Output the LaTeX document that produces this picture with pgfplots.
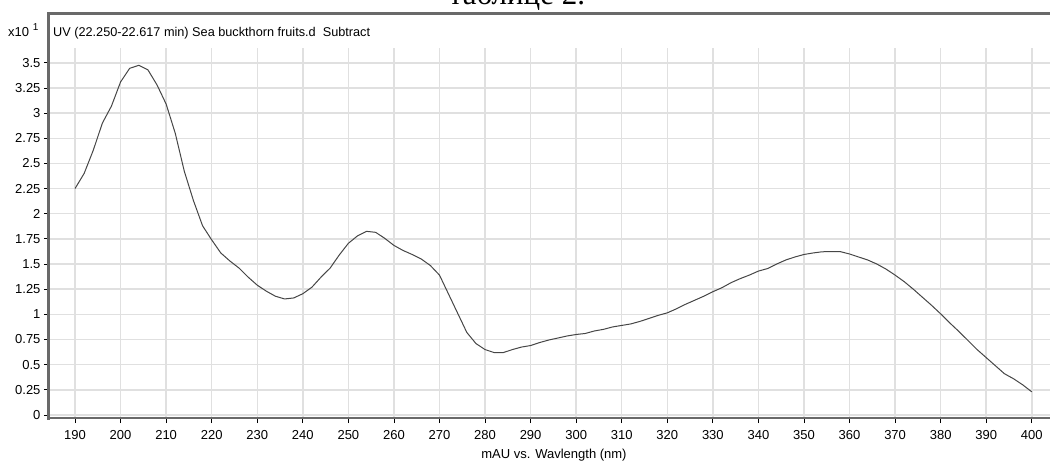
\documentclass[border=0pt]{standalone}
\usepackage{fontspec}
\setmainfont{Liberation Sans}
\newfontfamily\serifcyr{Liberation Serif}
\usepackage{pgfplots}
\pgfplotsset{compat=1.18}
\definecolor{gridgray}{RGB}{224,224,224}
\definecolor{curvegray}{RGB}{70,70,70}
\definecolor{framegray}{RGB}{105,105,105}
\pgfplotstableread{
x y
190 2.25
192 2.40
194 2.63
196 2.90
198 3.07
200 3.31
202 3.445
204 3.475
206 3.43
208 3.28
210 3.09
212 2.80
214 2.42
216 2.13
218 1.88
220 1.74
222 1.61
224 1.53
226 1.46
228 1.37
230 1.29
232 1.23
234 1.18
236 1.153
238 1.163
240 1.205
242 1.27
244 1.37
246 1.46
248 1.59
250 1.706
252 1.78
254 1.825
256 1.815
258 1.755
260 1.685
262 1.635
264 1.595
266 1.55
268 1.485
270 1.39
272 1.20
274 1.01
276 0.82
278 0.71
280 0.65
282 0.62
284 0.62
286 0.65
288 0.675
290 0.69
292 0.72
294 0.745
296 0.765
298 0.785
300 0.80
302 0.81
304 0.835
306 0.851
308 0.875
310 0.89
312 0.905
314 0.93
316 0.96
318 0.99
320 1.015
322 1.055
324 1.10
326 1.14
328 1.18
330 1.225
332 1.265
334 1.315
336 1.355
338 1.39
340 1.43
342 1.455
344 1.50
346 1.54
348 1.57
350 1.595
352 1.61
354 1.622
356 1.623
358 1.623
360 1.60
362 1.57
364 1.54
366 1.50
368 1.45
370 1.39
372 1.325
374 1.25
376 1.17
378 1.09
380 1.005
382 0.915
384 0.83
386 0.74
388 0.65
390 0.57
392 0.49
394 0.41
396 0.36
398 0.30
400 0.23
}\spectrum
\begin{document}
\begin{tikzpicture}[x=1pt,y=1pt]
\useasboundingbox (0,0) rectangle (1050,461);
\begin{axis}[
  at={(49pt,43pt)}, anchor=south west,
  scale only axis, width=1001pt, height=370pt,
  xmin=184.29, xmax=404.0, ymin=-0.03, ymax=3.647,
  axis line style={draw=none},
  xtick={190,200,210,220,230,240,250,260,270,280,290,300,310,320,330,340,350,360,370,380,390,400},
  ytick={0,0.25,0.5,0.75,1,1.25,1.5,1.75,2,2.25,2.5,2.75,3,3.25,3.5},
  yticklabels={0,0.25,0.5,0.75,1,1.25,1.5,1.75,2,2.25,2.5,2.75,3,3.25,3.5},
  grid=major,
  major grid style={color=gridgray, line width=1.5pt},
  tick style={color=black, line width=0.8pt},
  major tick length=5pt, tick align=outside, tick pos=left,
  ticklabel style={font=\fontsize{13}{13}\selectfont},
  xticklabel style={yshift=-3.5pt},
  /pgf/number format/assume math mode=true,
]
\addplot[color=curvegray, line width=1pt] table[x=x, y=y] {\spectrum};
\end{axis}
% frame
\draw[framegray, line width=2.8pt] (48.5,41.5) -- (48.5,448.5);
\draw[framegray, line width=2.8pt] (47.1,447.5) -- (1050,447.5);
\draw[framegray, line width=2.8pt] (47.1,43) -- (1050,43);
% texts
\node[anchor=base west, inner sep=0pt, font=\fontsize{12.7}{13}\selectfont] at (53,424.3) {UV (22.250-22.617 min) Sea buckthorn fruits.d\ \ Subtract};
\node[anchor=base west, inner sep=0pt, font=\fontsize{13}{13}\selectfont] at (8,424.3) {x10\ \raisebox{0.45em}{\fontsize{10}{10}\selectfont 1}};
\node[anchor=base, inner sep=0pt, font=\fontsize{13}{13}\selectfont] at (554,2.5) {mAU vs. Wavlength (nm)};
\node[anchor=base, inner sep=0pt, font=\serifcyr\fontsize{31}{31}\selectfont] at (517,456) {таблице 2.};
\end{tikzpicture}
\end{document}
